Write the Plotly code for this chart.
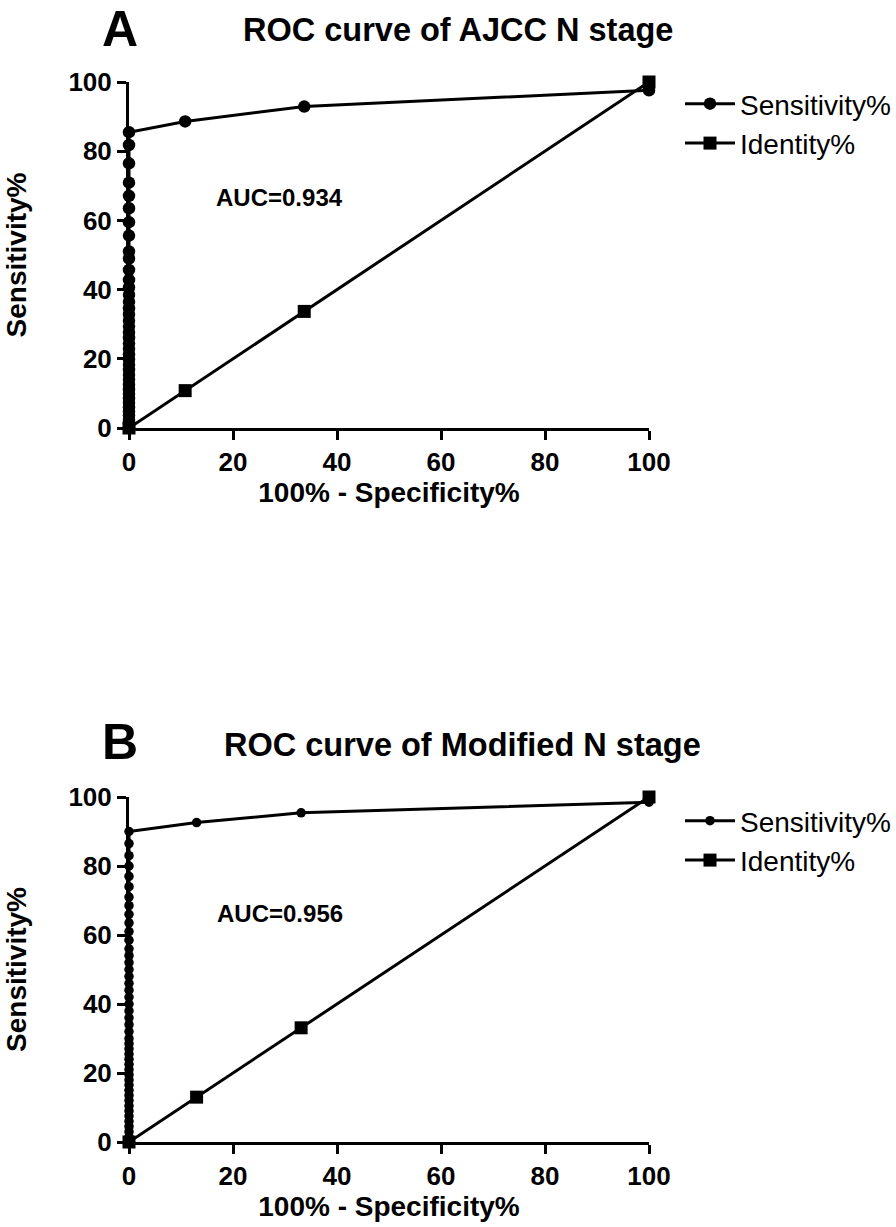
import plotly.graph_objects as go

# ---------------- data ----------------
# Panel A: AJCC N stage
a_sens_x = [0] * 40 + [10.8, 33.7, 100]
a_sens_y = [0, 1.2, 2.4, 3.6, 4.8, 6.0, 7.3, 8.6, 9.9, 11.2, 12.6, 14.0, 15.4, 16.8,
            18.3, 19.8, 21.3, 22.8, 24.4, 26.0, 27.6, 29.3, 31.0, 32.8, 34.6, 36.5,
            38.5, 40.6, 42.8, 45.7, 49.0, 51.0, 55.6, 59.5, 63.5, 67.1, 70.9, 76.5,
            81.8, 85.5, 88.6, 92.9, 97.6]
a_ident_x = [0, 10.8, 33.7, 100]
a_ident_y = [0, 10.8, 33.7, 100]
a_auc = "AUC=0.934"

# Panel B: Modified N stage
b_sens_x = [0] * 46 + [13.0, 33.1, 100]
b_sens_y = [0, 1.5, 3.0, 4.5, 6.0, 7.5, 9.0, 10.5, 12.0, 13.5, 15.0, 16.5, 18.0, 19.5,
            21.0, 22.5, 24.0, 25.5, 27.0, 28.5, 30.0, 32.0, 34.0, 36.0, 38.0, 40.0,
            42.0, 44.0, 46.0, 48.0, 50.0, 52.0, 54.0, 56.0, 58.5, 61.0, 63.5, 66.0,
            68.5, 71.0, 74.0, 77.0, 80.0, 83.0, 86.5, 90.0, 92.6, 95.4, 98.5]
b_ident_x = [0, 13.0, 33.1, 100]
b_ident_y = [0, 13.0, 33.1, 100]
b_auc = "AUC=0.956"

x_ticks = [0, 20, 40, 60, 80, 100]
y_ticks = [0, 20, 40, 60, 80, 100]

FONT = "Liberation Sans, Arial, sans-serif"
W, H = 896, 1227

def px_x(p):
    return p / W

def px_y(p):
    return 1 - p / H

fig = go.Figure()

line_style = dict(color="black", width=3)

fig.add_trace(go.Scatter(x=a_sens_x, y=a_sens_y, mode="lines+markers", name="Sensitivity%",
                         line=line_style, marker=dict(symbol="circle", size=12.5, color="black"),
                         cliponaxis=False, xaxis="x", yaxis="y", legend="legend"))
fig.add_trace(go.Scatter(x=a_ident_x, y=a_ident_y, mode="lines+markers", name="Identity%",
                         line=line_style, marker=dict(symbol="square", size=13, color="black"),
                         cliponaxis=False, xaxis="x", yaxis="y", legend="legend"))
fig.add_trace(go.Scatter(x=b_sens_x, y=b_sens_y, mode="lines+markers", name="Sensitivity%",
                         line=line_style, marker=dict(symbol="circle", size=9.5, color="black"),
                         cliponaxis=False, xaxis="x2", yaxis="y2", legend="legend2"))
fig.add_trace(go.Scatter(x=b_ident_x, y=b_ident_y, mode="lines+markers", name="Identity%",
                         line=line_style, marker=dict(symbol="square", size=13, color="black"),
                         cliponaxis=False, xaxis="x2", yaxis="y2", legend="legend2"))

axis_common = dict(range=[0, 100], showgrid=False, zeroline=False, showline=True,
                   linecolor="black", linewidth=3, ticks="outside", ticklen=9,
                   tickwidth=3, tickcolor="black", tickvals=x_ticks, automargin=False,
                   tickfont=dict(family=FONT, size=26, color="black", weight="bold"))

xdom = [px_x(129), px_x(649)]
ydomA = [px_y(428), px_y(82)]
ydomB = [px_y(1142), px_y(797)]

xtitle = dict(text="<b>100% - Specificity%</b>", font=dict(family=FONT, size=28, color="black"), standoff=2)
ytitle = dict(text="<b>Sensitivity%</b>", font=dict(family=FONT, size=28, color="black"), standoff=34)

legend_common = dict(xanchor="left", yanchor="top", itemwidth=50,
                     font=dict(family=FONT, size=28, color="black"), bgcolor="rgba(0,0,0,0)")

fig.update_layout(
    width=W, height=H,
    margin=dict(l=0, r=0, t=0, b=0, autoexpand=False),
    paper_bgcolor="white", plot_bgcolor="white",
    font=dict(family=FONT, color="black"),
    xaxis=dict(domain=xdom, anchor="y", title=xtitle, **axis_common),
    yaxis=dict(domain=ydomA, anchor="x", title=ytitle, **{**axis_common, "tickvals": y_ticks}),
    xaxis2=dict(domain=xdom, anchor="y2", title=xtitle, **axis_common),
    yaxis2=dict(domain=ydomB, anchor="x2", title=ytitle, **{**axis_common, "tickvals": y_ticks}),
    legend=dict(x=px_x(680), y=px_y(79), **legend_common),
    legend2=dict(x=px_x(680), y=px_y(796), **legend_common),
    showlegend=True,
)

annots = [
    dict(text="<b>A</b>", x=px_x(120), y=px_y(29), font=dict(size=50)),
    dict(text="<b>ROC curve of AJCC N stage</b>", x=px_x(458), y=px_y(30), font=dict(size=32.5)),
    dict(text="<b>B</b>", x=px_x(120), y=px_y(742), font=dict(size=50)),
    dict(text="<b>ROC curve of Modified N stage</b>", x=px_x(462), y=px_y(745), font=dict(size=32.5)),
    dict(text="<b>" + a_auc + "</b>", x=px_x(279), y=px_y(197), font=dict(size=24)),
    dict(text="<b>" + b_auc + "</b>", x=px_x(280), y=px_y(913), font=dict(size=24)),
]
for a in annots:
    a["font"].update(family=FONT, color="black")
    fig.add_annotation(xref="paper", yref="paper", xanchor="center", yanchor="middle",
                       showarrow=False, borderpad=0, **a)

fig.write_html("out.html", config={"displayModeBar": False},
               post_script="document.body.style.margin='0';document.body.style.padding='0';")
